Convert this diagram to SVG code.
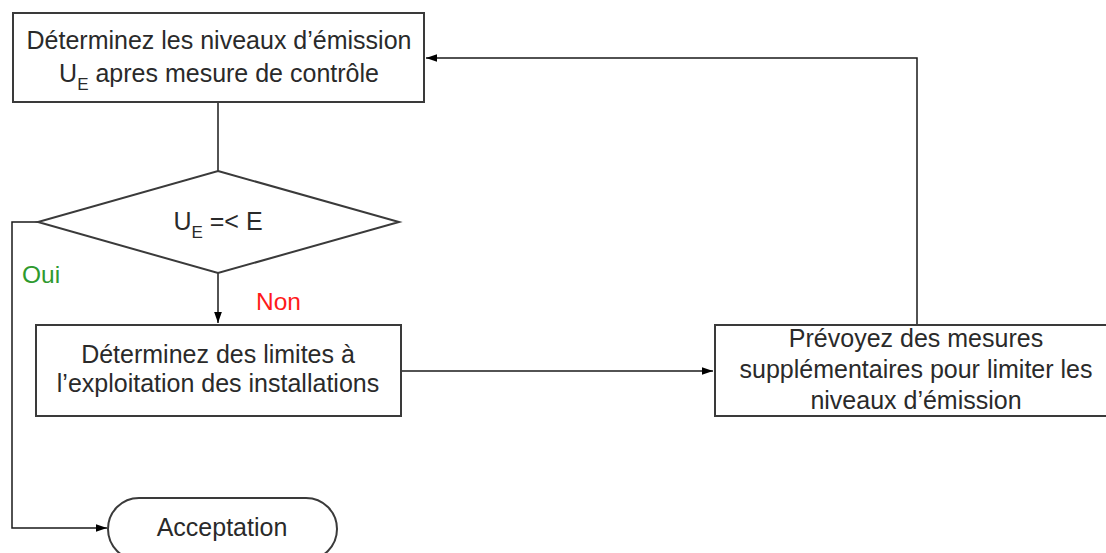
<svg xmlns="http://www.w3.org/2000/svg" width="1106" height="553" viewBox="0 0 1106 553">
<defs>
<style>
.n{fill:#fff;stroke:#3a3a3a;stroke-width:2}
.t{font-family:"Liberation Sans",Arial,sans-serif;font-size:25px;fill:#2a2a2a;text-anchor:middle}
.s{font-size:17px}
.c{fill:none;stroke:#1a1a1a;stroke-width:1.5}
.lbl{font-family:"Liberation Sans",Arial,sans-serif;font-size:24.5px}
</style>
<marker id="ah" viewBox="0 0 10 10" refX="10" refY="5" markerWidth="15" markerHeight="11" markerUnits="userSpaceOnUse" orient="auto">
<path d="M0,1.5 L10,5 L0,8.5 Z" fill="#000"/>
</marker>
</defs>
<rect width="1106" height="553" fill="#fff"/>
<g id="connectors">
<path class="c" d="M218,103 V171"/>
<path class="c" d="M218,273 V323" marker-end="url(#ah)"/>
<path class="c" d="M38,222 H12 V528 H107" marker-end="url(#ah)"/>
<path class="c" d="M401,371 H713" marker-end="url(#ah)"/>
<path class="c" d="M917,325 V58 H426" marker-end="url(#ah)"/>
<text class="lbl" x="22" y="283" fill="#2e9a2e">Oui</text>
<text class="lbl" x="256" y="310" fill="#ff1a1a">Non</text>
</g>
<g id="n1">
<rect class="n" x="13" y="13" width="411" height="89"/>
<text class="t" x="219" y="49">Déterminez les niveaux d’émission</text>
<text class="t" x="219" y="82"><tspan>U</tspan><tspan class="s" dy="8">E</tspan><tspan dy="-8"> apres mesure de contrôle</tspan></text>
</g>
<g id="n2">
<polygon class="n" points="218,171 399,222 218,273 38,222" stroke-width="1.5"/>
<text class="t" x="218" y="230"><tspan>U</tspan><tspan class="s" dy="8">E</tspan><tspan dy="-8"> =&lt; E</tspan></text>
</g>
<g id="n3">
<rect class="n" x="36" y="325" width="365" height="91"/>
<text class="t" x="218" y="363">Déterminez des limites à</text>
<text class="t" x="218" y="392">l’exploitation des installations</text>
</g>
<g id="n4">
<rect class="n" x="715" y="325" width="400" height="91"/>
<text class="t" x="916" y="347">Prévoyez des mesures</text>
<text class="t" x="916" y="378">supplémentaires pour limiter les</text>
<text class="t" x="916" y="409">niveaux d’émission</text>
</g>
<g id="n5">
<rect class="n" x="108" y="498" width="229" height="62" rx="31" ry="31" stroke-width="1.5"/>
<text class="t" x="222" y="536">Acceptation</text>
</g>
</svg>
